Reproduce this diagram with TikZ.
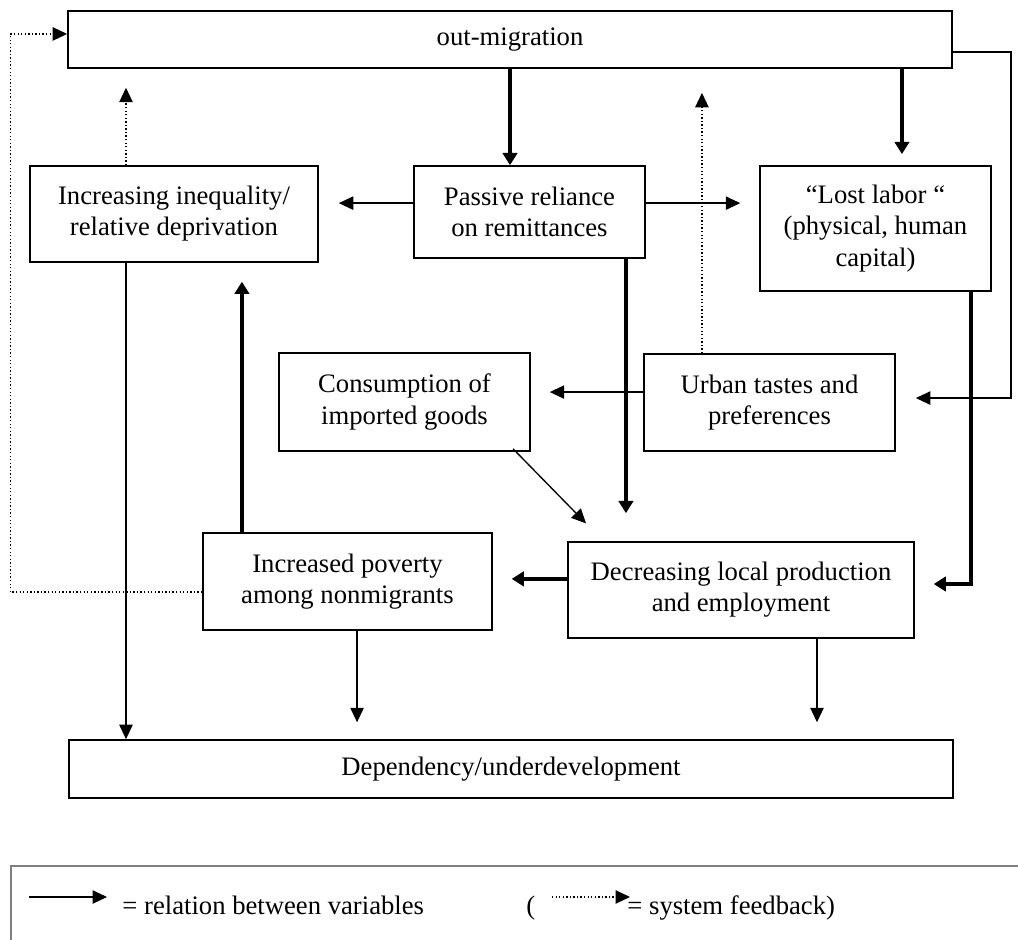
\documentclass[tikz,border=0pt]{standalone}
\usepackage{fontspec}
\setmainfont{Liberation Serif}
\usetikzlibrary{arrows.meta}

\begin{document}
\begin{tikzpicture}[x=0.45pt, y=-0.45pt,
        box/.style={draw, line width=0.75pt, align=center, inner sep=2pt, font=\fontsize{12}{14}\selectfont},
        rel/.style={line width=0.6pt, -{Triangle[length=6.5pt,width=6pt]}},
        strong/.style={line width=1.8pt, -{Triangle[length=5.5pt,width=6.5pt]}},
        feedback/.style={line width=0.6pt, densely dotted, -{Triangle[length=6.5pt,width=6pt]}},
        legendtext/.style={anchor=base west, inner sep=0pt, font=\fontsize{12}{14}\selectfont}]
            \useasboundingbox (0,0) rectangle (1018,940);

            % Top row
            \node [box, minimum width=397.8pt, minimum height=25.65pt] (mig) at (510,39.5) {out-migration};
            \node [box, minimum width=129.6pt, minimum height=43.2pt] (ineq) at (174,214) {Increasing inequality/\\relative deprivation};
            \node [box, minimum width=104pt, minimum height=41.4pt] (pass) at (529.5,212) {Passive reliance\\on remittances};
            \node [box, minimum width=104pt, minimum height=56.25pt] (lost) at (875.5,228.5) {``Lost labor ``\\(physical, human\\capital)};

            % Middle row
            \node [box, minimum width=113pt, minimum height=44.1pt] (cons) at (404.5,402) {Consumption of\\imported goods};
            \node [box, minimum width=113pt, minimum height=43.65pt] (urban) at (769.5,402.5) {Urban tastes and\\preferences};

            % Lower row
            \node [box, minimum width=130pt, minimum height=43.65pt] (pov) at (347.5,581.5) {Increased poverty\\among nonmigrants};
            \node [box, minimum width=155.7pt, minimum height=43.2pt] (decr) at (741,590) {Decreasing local production\\and employment};
            \node [box, minimum width=397.8pt, minimum height=26.1pt] (dep) at (511,769) {Dependency/underdevelopment};

            % Out-migration and its direct effects
            \draw [strong] (mig.south) -- (mig.south |- pass.north);
            \coordinate (lostin) at ([xshift=11.9pt]lost.north);
            \draw [strong, shorten >=5pt] (lostin |- mig.south) -- (lostin);
            \draw [rel, shorten >=9pt] ([yshift=-5.6pt]mig.east) -- ++(58,0) |- ([yshift=2pt]urban.east);

            % Remittances
            \coordinate (p2i) at ([yshift=4pt]pass.west);
            \draw [rel, shorten >=9pt] (p2i) -- (p2i -| ineq.east);
            \draw [rel, shorten >=8.5pt] (p2i -| pass.east) -- (p2i -| lost.west);
            \coordinate (p2d) at ([xshift=43.4pt]pass.south);
            \draw [strong, shorten >=12.6pt] (p2d) -- (p2d |- decr.north);

            % Tastes and consumption
            \coordinate (u2c) at ([yshift=4.7pt]urban.west);
            \draw [rel, shorten >=8.5pt] (u2c) -- (u2c -| cons.east);
            \draw [rel] ([xshift=-8pt,yshift=1.35pt]cons.south east) -- ([shift={(8.5pt,8pt)}]decr.north west);

            % Production, labor and poverty
            \draw [strong, shorten >=8.5pt] ([xshift=43pt]lost.south) |- ([yshift=2.7pt]decr.east);
            \coordinate (d2p) at ([yshift=5pt]decr.west);
            \draw [strong, shorten >=8.5pt] (d2p) -- (d2p -| pov.east);
            \coordinate (p2q) at ([xshift=-47.5pt]pov.north);
            \draw [strong, shorten >=8.5pt] (p2q) -- (p2q |- ineq.south);

            % System feedback
            \coordinate (ineqtop) at ([xshift=-21.6pt]ineq.north);
            \draw [feedback, shorten >=8.5pt] (ineqtop) -- (ineqtop |- mig.south);
            \coordinate (urbtop) at ([xshift=-30.4pt]urban.north);
            \draw [feedback, shorten >=10.8pt] (urbtop) -- (urbtop |- mig.south);
            \draw [feedback] ([yshift=-4.7pt]pov.west) -- ++(-192,0) |- ([yshift=2.5pt]mig.west);

            % Into dependency
            \coordinate (q2e) at ([xshift=-21.6pt]ineq.south);
            \draw [rel] (q2e) -- (q2e |- dep.north);
            \coordinate (p2e) at ([xshift=4.3pt]pov.south);
            \draw [rel, shorten >=7.6pt] (p2e) -- (p2e |- dep.north);
            \coordinate (d2e) at ([xshift=34.2pt]decr.south);
            \draw [rel, shorten >=7.6pt] (d2e) -- (d2e |- dep.north);

            % Legend
            \draw [black!50, line width=1.3pt] (11,950) -- (11,866) -- (1030,866);
            \coordinate (relA) at (29,897);
            \coordinate (relB) at (107,897);
            \draw [rel] (relA) -- (relB);
            \node [legendtext] (reltext) at (122,914) {= relation between variables};
            \node [legendtext] (paren) at (526,914) {(};
            \coordinate (fbA) at (552,897);
            \coordinate (fbB) at (630,897);
            \draw [feedback] (fbA) -- (fbB);
            \node [legendtext] (fbtext) at (627,914) {= system feedback)};
        \end{tikzpicture}
\end{document}
